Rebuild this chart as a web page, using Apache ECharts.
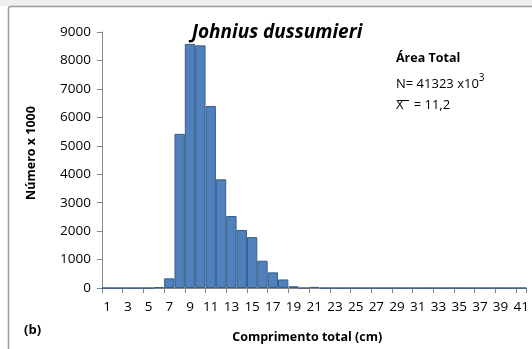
<!DOCTYPE html>
<html>
<head>
<meta charset="utf-8">
<script src="https://cdn.jsdelivr.net/npm/echarts@6/dist/echarts.min.js"></script>
<style>
  html, body { margin: 0; padding: 0; background: #ffffff; }
  #chart { width: 532px; height: 349px; }
</style>
</head>
<body>
<div id="chart"></div>
<script>
// Length classes (cm) and catch counts (x1000) of Johnius dussumieri
const lengthClasses = Array.from({ length: 41 }, (_, i) => String(i + 1));
const counts = [
  0, 0, 0, 0, 0, 30, 340, 5420, 8580, 8530,
  6400, 3820, 2530, 2040, 1790, 960, 550, 300, 60, 0,
  40, 0, 0, 0, 0, 0, 0, 0, 0, 0,
  0, 0, 0, 0, 0, 0, 0, 0, 0, 0,
  0
];
const yTicks = { min: 0, max: 9000, interval: 1000 };

const FONT = '"Open Sans", "Noto Sans", sans-serif';
const chart = echarts.init(document.getElementById('chart'));

chart.setOption({
  animation: false,
  backgroundColor: '#ffffff',
  textStyle: { fontFamily: FONT },
  graphic: [
    { type: 'rect', shape: { x: 0, y: 0, width: 532, height: 6 }, style: { fill: '#efefef' }, silent: true },
    { type: 'rect', shape: { x: 8.5, y: 6.5, width: 540, height: 360, r: 2 },
      style: { fill: 'none', stroke: '#9a9a9a', lineWidth: 1.5 }, silent: true },
    { type: 'text', x: 277, y: 33,
      style: { text: 'Johnius dussumieri', font: 'italic bold 19px ' + FONT, fill: '#000',
               textAlign: 'center', textVerticalAlign: 'middle' } },
    { type: 'text', x: 396, y: 58,
      style: { text: 'Área Total', font: 'bold 12.5px ' + FONT, fill: '#000', textVerticalAlign: 'middle' } },
    { type: 'text', x: 396, y: 73,
      style: {
        text: '{n|N= 41323 x10}{s|3}',
        rich: {
          n: { fontFamily: FONT, fontSize: 13, fill: '#000', verticalAlign: 'bottom' },
          s: { fontFamily: FONT, fontSize: 10, fill: '#000', verticalAlign: 'top', padding: [0, 0, 8, 0] }
        }
      } },
    { type: 'text', x: 396, y: 105,
      style: { text: 'X   = 11,2', font: '13px ' + FONT, fill: '#000', textVerticalAlign: 'middle' } },
    { type: 'line', shape: { x1: 398, y1: 100.5, x2: 409, y2: 100.5 }, style: { stroke: '#000', lineWidth: 1 } },
    { type: 'text', x: 24, y: 330,
      style: { text: '(b)', font: 'bold 13px ' + FONT, fill: '#000', textVerticalAlign: 'middle' } }
  ],
  grid: { left: 102, right: 5, top: 32, bottom: 60, containLabel: false },
  xAxis: {
    type: 'category',
    data: lengthClasses,
    name: 'Comprimento total (cm)',
    nameLocation: 'middle',
    nameGap: 43,
    nameTextStyle: { fontFamily: FONT, fontSize: 12.5, fontWeight: 'bold', color: '#000', padding: [0, 0, 0, -14] },
    axisLine: { lineStyle: { color: '#868686', width: 1 } },
    axisTick: { show: true, length: 5, lineStyle: { color: '#868686' } },
    axisLabel: { interval: 1, fontFamily: FONT, fontSize: 13.5, color: '#000', margin: 12 },
    splitLine: { show: false }
  },
  yAxis: {
    type: 'value',
    min: yTicks.min,
    max: yTicks.max,
    interval: yTicks.interval,
    name: 'Número x 1000',
    nameLocation: 'middle',
    nameGap: 64,
    nameTextStyle: { fontFamily: FONT, fontSize: 12.5, fontWeight: 'bold', color: '#000', padding: [0, 0, 0, 14] },
    axisLine: { show: true, lineStyle: { color: '#868686', width: 1 } },
    axisTick: { show: true, length: 5, lineStyle: { color: '#868686' } },
    axisLabel: { fontFamily: FONT, fontSize: 13.5, color: '#000', margin: 11, formatter: v => String(v) },
    splitLine: { show: false }
  },
  series: [{
    type: 'bar',
    data: counts,
    barCategoryGap: '0%',
    itemStyle: { color: '#4f81bd', borderColor: '#385d8a', borderWidth: 1 }
  }]
});
</script>
</body>
</html>
